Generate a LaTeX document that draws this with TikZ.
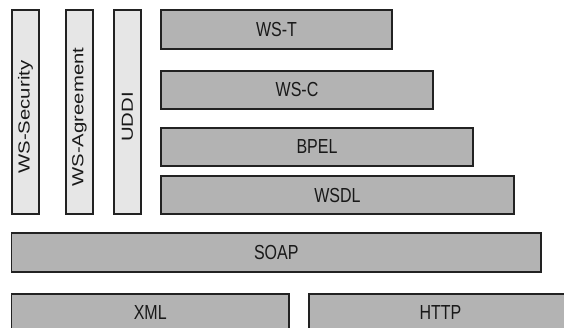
\documentclass[tikz,border=0pt]{standalone}
\usepackage{fontspec}
\setmainfont{Liberation Sans}
\usetikzlibrary{positioning}

\definecolor{layergray}{HTML}{B3B3B3}
\definecolor{sidegray}{HTML}{E6E6E6}
\definecolor{edgegray}{HTML}{222222}

% labels are set a little taller than wide
\newcommand{\layerlabel}[1]{\scalebox{1}[1.27]{#1}}
\newcommand{\sidelabel}[1]{\rotatebox{90}{\scalebox{1.27}[1]{#1\kern8pt}}}

\begin{document}
\begin{tikzpicture}[
    x=1pt, y=-1pt,
    font=\fontsize{16}{19}\selectfont,
    % Define styles for the different node types
    layerbox/.style={rectangle, draw=edgegray, fill=layergray, line width=1.2pt, text=black!90, inner sep=0pt, anchor=center},
    sidebox/.style={rectangle, draw=edgegray, fill=sidegray, line width=1.2pt, text=black!90, inner sep=0pt, minimum width=27, minimum height=204, anchor=center},
]
\useasboundingbox (0,0) rectangle (564,327);

% -------------------------
% Cross-cutting specifications
% -------------------------
\node (security) [sidebox] at (25.5,112) {\sidelabel{WS-Security}};
\node (agreement) [sidebox] at (79.5,112) {\sidelabel{WS-Agreement}};
\node (uddi) [sidebox] at (127.5,112) {\sidelabel{UDDI}};

% -------------------------
% Stacked layers
% -------------------------
\node (wst) [layerbox, minimum width=231, minimum height=39] at (276.5,29.5) {\layerlabel{WS-T}};
\node (wsc) [layerbox, minimum width=272, minimum height=38] at (297,90) {\layerlabel{WS-C}};
\node (bpel) [layerbox, minimum width=312, minimum height=38] at (317,147) {\layerlabel{BPEL}};
\node (wsdl) [layerbox, minimum width=353, minimum height=38] at (337.5,195) {\layerlabel{WSDL}};
\node (soap) [layerbox, minimum width=529.5, minimum height=39] at (276.25,252.5) {\layerlabel{SOAP}};

% Base layers
\node (xml) [layerbox, minimum width=277.5, minimum height=38] at (150.25,313) {\layerlabel{XML}};
\node (http) [layerbox, minimum width=270, minimum height=38] at (444,313) {\hspace*{-7pt}\layerlabel{HTTP}};

\end{tikzpicture}
\end{document}
